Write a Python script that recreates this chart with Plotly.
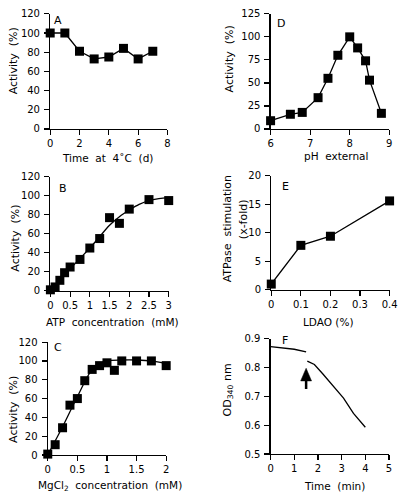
import plotly.graph_objects as go

W, H = 408, 504
FONT = "DejaVu Sans, Verdana, sans-serif"
S2 = "\u00a0 "  # double space that survives SVG whitespace collapsing

# ---- Data ----
a_time = [0, 1, 2, 3, 4, 5, 6, 7]
a_act = [100, 100, 81, 73, 75, 84, 73, 81]

d_ph = [6.0, 6.5, 6.8, 7.2, 7.45, 7.7, 8.0, 8.2, 8.4, 8.5, 8.8]
d_act = [9, 16, 18, 34, 55, 80, 100, 88, 74, 53, 17]

b_atp = [0, 0.12, 0.24, 0.36, 0.5, 0.75, 1.0, 1.25, 1.5, 1.75, 2.0, 2.5, 3.0]
b_act = [1, 4, 11, 19, 25, 33, 45, 55, 77, 71, 86, 96, 95]
b_fit_x = [0, 0.25, 0.5, 0.75, 1.0, 1.25, 1.5, 1.75, 2.0, 2.25, 2.5, 2.75, 3.0]
b_fit_y = [0, 12, 23, 34, 45, 57, 69, 78, 85, 91, 95, 97, 98]

e_ldao = [0, 0.1, 0.2, 0.4]
e_stim = [1.0, 7.8, 9.4, 15.6]

c_mg = [0, 0.125, 0.25, 0.375, 0.5, 0.625, 0.75, 0.875, 1.0, 1.125, 1.25, 1.5, 1.75, 2.0]
c_act = [1, 11, 29, 53, 60, 79, 91, 95, 98, 90, 100, 100, 100, 95]
c_fit_x = [0, 0.25, 0.5, 0.75, 0.875, 1.0, 1.25, 1.5, 1.75, 2.0]
c_fit_y = [0, 30, 62, 91, 97, 100, 101, 101, 100, 97]

f_t1 = [0.0, 0.5, 1.0, 1.5]
f_od1 = [0.873, 0.869, 0.864, 0.855]
f_t2 = [1.55, 1.85, 2.2, 2.55, 3.08, 3.5, 4.0]
f_od2 = [0.823, 0.811, 0.779, 0.745, 0.694, 0.641, 0.593]

arrow_t = 1.5
arrow_tip, arrow_base, arrow_tail = 0.798, 0.754, 0.726

# ---- Layout helpers ----
def px_x(x0, x1):
    return [x0 / W, x1 / W]

def px_y(top, bottom):
    return [1 - bottom / H, 1 - top / H]

panels = {
    "A": ((48.5, 169), (8, 126), [0, 8], [0, 120], [0, 2, 4, 6, 8], list(range(0, 121, 20))),
    "D": ((275, 397), (8, 126), [6, 9], [0, 125], [6, 7, 8, 9], list(range(0, 126, 25))),
    "B": ((48.7, 170.3), (175, 291.7), [0, 3], [0, 120], [0, 0.5, 1, 1.5, 2, 2.5, 3], list(range(0, 121, 20))),
    "E": ((275.7, 397.3), (174, 290.7), [0, 0.4], [0, 20], [0, 0.1, 0.2, 0.3, 0.4], [0, 5, 10, 15, 20]),
    "C": ((46, 167.7), (344.3, 460), [0, 2], [0, 120], [0, 0.5, 1, 1.5, 2], list(range(0, 121, 20))),
    "F": ((275, 396.7), (341, 459), [0, 5], [0.5, 0.9], [0, 1, 2, 3, 4, 5], [0.5, 0.6, 0.7, 0.8, 0.9]),
}
order = ["A", "D", "B", "E", "C", "F"]

fig = go.Figure()
layout = dict(
    width=W, height=H, margin=dict(l=0, r=0, t=0, b=0),
    paper_bgcolor="white", plot_bgcolor="white", showlegend=False,
    font=dict(family=FONT, size=10, color="black"),
)
axref = {}
for i, name in enumerate(order, start=1):
    (x0, x1), (t, b), xr, yr, xt, yt = panels[name]
    xa = "xaxis" if i == 1 else f"xaxis{i}"
    ya = "yaxis" if i == 1 else f"yaxis{i}"
    xs = "x" if i == 1 else f"x{i}"
    ys = "y" if i == 1 else f"y{i}"
    axref[name] = (xs, ys)
    common = dict(showline=True, linecolor="black", linewidth=1.2, ticks="outside",
                  ticklen=5, tickwidth=1.2, tickcolor="black", showgrid=False,
                  zeroline=False, mirror=False, fixedrange=True,
                  tickfont=dict(family=FONT, size=10, color="black"))
    layout[xa] = dict(domain=px_x(x0, x1), range=xr, tickvals=xt, anchor=ys, **common)
    layout[ya] = dict(domain=px_y(t, b), range=yr, tickvals=yt, anchor=xs, ticklabelstandoff=2, **common)

mk = dict(symbol="square", size=9, color="black")

def add(name, x, y, mode, shape="linear", marker=True):
    xs, ys = axref[name]
    fig.add_trace(go.Scatter(x=x, y=y, mode=mode, xaxis=xs, yaxis=ys, cliponaxis=False,
                             marker=mk if marker else None, hoverinfo="skip",
                             line=dict(color="black", width=1.3, shape=shape)))

add("A", a_time, a_act, "lines+markers")
add("D", d_ph, d_act, "lines+markers")
add("B", b_fit_x, b_fit_y, "lines", shape="spline", marker=False)
add("B", b_atp, b_act, "markers")
add("E", e_ldao, e_stim, "lines+markers")
add("C", c_fit_x, c_fit_y, "lines", shape="spline", marker=False)
add("C", c_mg, c_act, "markers")
add("F", f_t1, f_od1, "lines", marker=False)
add("F", f_t2, f_od2, "lines", marker=False)

# Arrow in panel F
fx, fy = axref["F"]
hw = 0.23
shapes = [
    dict(type="path", xref=fx, yref=fy,
         path=f"M {arrow_t - hw},{arrow_base} L {arrow_t},{arrow_tip} L {arrow_t + hw},{arrow_base} Z",
         fillcolor="black", line=dict(color="black", width=0.5)),
    dict(type="line", xref=fx, yref=fy, x0=arrow_t, x1=arrow_t, y0=arrow_tail, y1=arrow_base + 0.004,
         line=dict(color="black", width=2.5)),
]
layout["shapes"] = shapes

anns = []
def txt(text, x, y, angle=0, size=10.5):
    anns.append(dict(text=text, x=x / W, y=1 - y / H, xref="paper", yref="paper",
                     showarrow=False, textangle=angle, xanchor="center", yanchor="middle",
                     font=dict(family=FONT, size=size, color="black")))

# panel letters
txt("A", 57, 14.5, size=11)
txt("D", 286, 18, size=11)
txt("B", 62, 186.7, size=11)
txt("E", 290.7, 185, size=11)
txt("C", 56.3, 350, size=11)
txt("F", 290, 342.5, size=11)

# x titles
txt(f"Time{S2}at{S2}4˚C{S2}(d)", 107, 156)
txt(f"pH{S2}external", 342, 154)
txt(f"ATP{S2}concentration{S2}(mM)", 113, 324)
txt("LDAO (%)", 335, 324)
txt(f"MgCl<sub>2</sub>{S2}concentration{S2}(mM)", 110, 492)
txt(f"Time{S2}(min)", 341, 492)

# y titles
act = f"Activity{S2}(%)"
txt(act, 11, 56, angle=-90, size=11)
txt(act, 233, 54, angle=-90, size=11)
txt(act, 12.7, 238, angle=-90, size=11)
txt(f"ATPase{S2}stimulation", 231, 228, angle=-90, size=11)
txt("(x-fold)", 247, 218, angle=-90, size=11)
txt(act, 10, 413, angle=-90, size=11)
txt("OD<sub>340</sub> nm", 231, 393, angle=-90, size=11)

layout["annotations"] = anns
fig.update_layout(**layout)
fig.write_html("out.html", config={"displayModeBar": False, "staticPlot": True},
               post_script="document.body.style.margin='0';document.body.style.padding='0';")
